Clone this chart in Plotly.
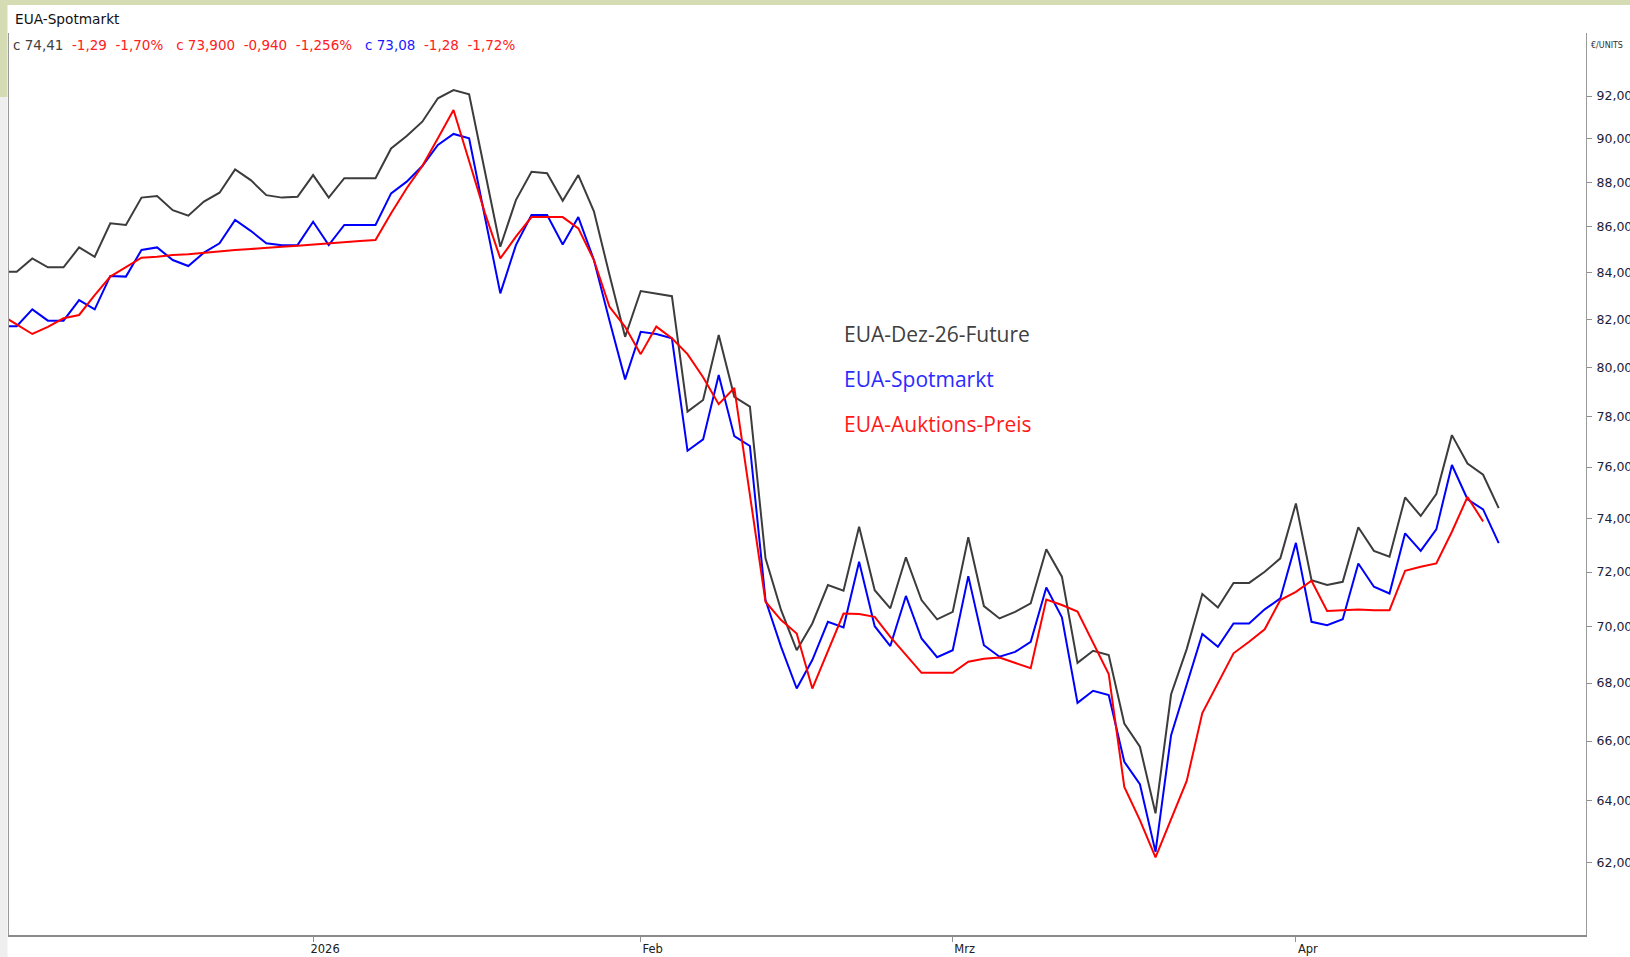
import math
import pandas as pd
import plotly.graph_objects as go

# ---------------- data ----------------
holidays = ["2025-12-24", "2025-12-25", "2025-12-26", "2025-12-31",
            "2026-01-01", "2026-04-03", "2026-04-06"]
dates = [d.strftime("%Y-%m-%d") for d in pd.bdate_range("2025-11-28", "2026-04-22")
         if d.strftime("%Y-%m-%d") not in holidays]

future_dec26 = [84.04, 84.04, 84.62, 84.23, 84.23, 85.10, 84.69, 86.16, 86.09, 87.31,
                87.38, 86.75, 86.50, 87.13, 87.53, 88.59, 88.10, 87.42, 87.31, 87.35,
                88.33, 87.31, 88.19, 88.19, 88.19, 89.55, 90.12, 90.79, 91.89, 92.28,
                92.08, 88.54, 85.13, 87.20, 88.48, 88.41, 87.17, 88.33, 86.70, 83.90,
                81.27, 83.21, 83.11, 82.99, 78.20, 78.67, 81.35, 78.80, 78.40, 72.51,
                70.60, 69.16, 70.12, 71.52, 71.31, 73.70, 71.33, 70.67, 72.55, 70.97,
                70.27, 70.54, 73.30, 70.75, 70.30, 70.54, 70.85, 72.85, 71.83, 68.71,
                69.14, 68.99, 66.60, 65.81, 63.59, 67.61, 69.20, 71.19, 70.70, 71.60,
                71.60, 72.01, 72.51, 74.59, 71.70, 71.52, 71.64, 73.68, 72.79, 72.57,
                74.82, 74.11, 74.95, 77.26, 76.14, 75.70, 74.41]

spot = [81.72, 81.72, 82.43, 81.95, 81.95, 82.82, 82.43, 83.86, 83.83, 84.99,
        85.10, 84.55, 84.29, 84.87, 85.28, 86.31, 85.83, 85.28, 85.20, 85.20,
        86.23, 85.20, 86.09, 86.09, 86.09, 87.50, 88.03, 88.74, 89.71, 90.22,
        90.02, 86.49, 83.11, 85.20, 86.53, 86.53, 85.23, 86.44, 84.55, 81.95,
        79.51, 81.48, 81.39, 81.21, 76.64, 77.09, 79.69, 77.22, 76.83, 70.97,
        69.28, 67.81, 68.81, 70.18, 69.98, 72.38, 70.02, 69.31, 71.12, 69.58,
        68.91, 69.16, 71.85, 69.34, 68.93, 69.10, 69.46, 71.43, 70.34, 67.31,
        67.73, 67.58, 65.30, 64.55, 62.34, 66.20, 67.93, 69.74, 69.28, 70.12,
        70.12, 70.63, 71.03, 73.09, 70.18, 70.06, 70.27, 72.32, 71.46, 71.21,
        73.45, 72.79, 73.60, 76.08, 74.75, 74.36, 73.08]

auction = [82.19, 81.78, 81.39, 81.69, 82.05, 82.19, 83.04, 83.83, 84.23, 84.65,
           84.69, 84.77, 84.80, 84.87, 84.94, 84.99, 85.03, 85.09, 85.13, 85.17,
           85.23, 85.28, 85.35, 85.38, 85.42, 86.61, 87.73, 88.74, 90.02, 91.34,
           88.97, 86.65, 84.62, 85.57, 86.44, 86.44, 86.44, 85.94, 84.55, 82.54,
           81.69, 80.55, 81.70, 81.21, 80.55, 79.60, 78.50, 79.16, 74.93, 70.91,
           70.24, 69.76, 67.81, 69.16, 70.48, 70.46, 70.36, 69.64, 68.99, 68.36,
           68.36, 68.36, 68.75, 68.86, 68.90, 68.71, 68.52, 70.99, 70.79, 70.55,
           69.40, 68.32, 64.46, 63.37, 62.16, 63.42, 64.66, 66.96, 67.99, 69.05,
           69.46, 69.91, 70.97, 71.27, 71.68, 70.57, 70.60, 70.63, 70.60, 70.60,
           72.05, 72.20, 72.32, 73.51, 74.84, 73.90]

series_names = ["EUA-Dez-26-Future", "EUA-Spotmarkt", "EUA-Auktions-Preis"]
x_tick_dates = ["2026-01-02", "2026-02-02", "2026-03-02", "2026-04-01"]
x_tick_text = ["2026", "Feb", "Mrz", "Apr"]
y_ticks = [62, 64, 66, 68, 70, 72, 74, 76, 78, 80, 82, 84, 86, 88, 90, 92]
y_tick_text = [f"{v},00" for v in y_ticks]

# ---------------- layout geometry ----------------
W, H = 1630, 957
L, R, T, B = 9, 44, 33, 22
PW, PH = W - L - R, H - T - B


def px(xp):
    return (xp - L) / PW


def py(yp):
    return 1 - (yp - T) / PH


C_FUT = "#3c3c3c"
C_SPOT = "#0000ff"
C_AUC = "#ff0000"
FONT = "DejaVu Sans"

fig = go.Figure()
fig.add_trace(go.Scatter(x=dates, y=future_dec26, mode="lines", name=series_names[0],
                         line=dict(color=C_FUT, width=2)))
fig.add_trace(go.Scatter(x=dates, y=spot, mode="lines", name=series_names[1],
                         line=dict(color=C_SPOT, width=2)))
fig.add_trace(go.Scatter(x=dates[:len(auction)], y=auction, mode="lines", name=series_names[2],
                         line=dict(color=C_AUC, width=2)))

y_top = math.log10(92) + (96 - T) / 4472
y_bot = y_top - PH / 4472

fig.update_layout(
    width=W, height=H,
    margin=dict(l=L, r=R, t=T, b=B, pad=0),
    paper_bgcolor="white", plot_bgcolor="white",
    showlegend=False,
    font=dict(family=FONT, size=12, color="#202020"),
    xaxis=dict(type="category", range=[0.506, 0.506 + PW / 15.6],
               tickmode="array", tickvals=x_tick_dates, ticktext=x_tick_text,
               ticks="outside", ticklen=5, tickcolor="#909090", tickwidth=1,
               ticklabelshift=12, ticklabelstandoff=-3,
               showgrid=False, zeroline=False,
               showline=True, linecolor="#8a8a8a", linewidth=2,
               tickfont=dict(family=FONT, size=11.5, color="#202020"),
               automargin=False, fixedrange=True),
    yaxis=dict(type="log", side="right", range=[y_bot, y_top],
               tickmode="array", tickvals=y_ticks, ticktext=y_tick_text,
               ticks="outside", ticklen=5, tickcolor="#909090", tickwidth=1,
               ticklabelstandoff=2,
               showgrid=False, zeroline=False,
               showline=True, mirror=True, linecolor="#9a9a9a", linewidth=1,
               tickfont=dict(family=FONT, size=12.5, color="#1c1c3a"),
               automargin=False, fixedrange=True),
)

# decorative window chrome
fig.add_shape(type="rect", xref="paper", yref="paper",
              x0=px(0), x1=px(W), y0=py(5), y1=py(0),
              fillcolor="#d5dbb2", line=dict(width=0), layer="below")
fig.add_shape(type="rect", xref="paper", yref="paper",
              x0=px(0), x1=px(7.5), y0=py(97), y1=py(5),
              fillcolor="#d5dbb2", line=dict(width=0), layer="below")
fig.add_shape(type="rect", xref="paper", yref="paper",
              x0=px(0), x1=px(7.5), y0=py(H), y1=py(97),
              fillcolor="#efefef", line=dict(width=0), layer="below")

# title and header values
fig.add_annotation(xref="paper", yref="paper", x=px(13), y=py(19),
                   xanchor="left", yanchor="middle", showarrow=False,
                   text="EUA-Spotmarkt", font=dict(family=FONT, size=13.7, color="#111111"))

nb = "\u00a0"
header = (f'<span style="color:#404040">c{nb}74,41</span>{nb}{nb}'
          f'<span style="color:#ff2020">-1,29{nb}{nb}-1,70%</span>{nb}{nb}{nb}'
          f'<span style="color:#ff2020">c{nb}73,900{nb}{nb}-0,940{nb}{nb}-1,256%</span>{nb}{nb}{nb}'
          f'<span style="color:#1a1aff">c{nb}73,08</span>{nb}{nb}'
          f'<span style="color:#ff2020">-1,28{nb}{nb}-1,72%</span>')
fig.add_annotation(xref="paper", yref="paper", x=px(11), y=py(45),
                   xanchor="left", yanchor="middle", showarrow=False,
                   text=header, font=dict(family=FONT, size=13.5, color="#404040"))

fig.add_annotation(xref="paper", yref="paper", x=px(1589), y=py(45),
                   xanchor="left", yanchor="middle", showarrow=False,
                   text="€/UNITS", font=dict(family=FONT, size=8, color="#303030"))

# in-chart legend text
legend_colors = ["#404040", "#2a2aff", "#ff1a1a"]
legend_y = [334, 378.5, 424]
for name, col, yy in zip(series_names, legend_colors, legend_y):
    fig.add_annotation(xref="paper", yref="paper", x=px(842), y=py(yy),
                       xanchor="left", yanchor="middle", showarrow=False,
                       text=name, font=dict(family="Open Sans", size=21, color=col))

fig.write_html("out.html", config={"displayModeBar": False},
               post_script="document.body.style.margin='0';document.body.style.overflow='hidden';")
